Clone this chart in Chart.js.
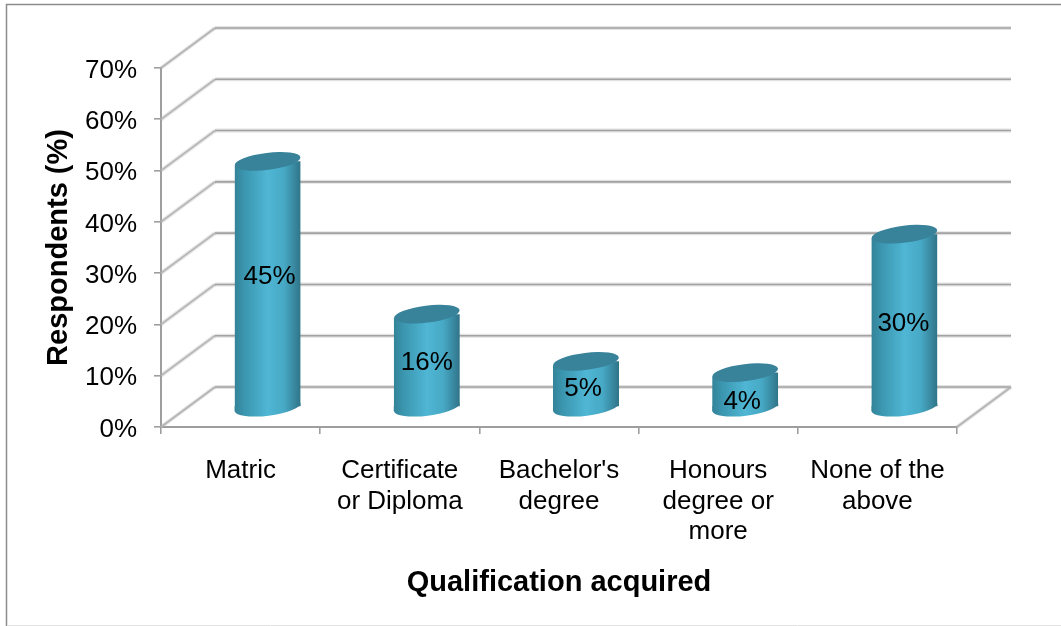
<!DOCTYPE html>
<html>
<head>
<meta charset="utf-8">
<style>html,body{margin:0;padding:0;background:#fff;overflow:hidden}canvas{display:block}</style>
<script src="https://cdn.jsdelivr.net/npm/chart.js@4"></script>
</head>
<body>
<canvas id="c" width="1061" height="626"></canvas>
<script>
const categories = [["Matric"], ["Certificate", "or Diploma"], ["Bachelor's", "degree"], ["Honours", "degree or", "more"], ["None of the", "above"]];
const drawnHeights = [48.1, 18.3, 9.1, 6.9, 33.9];
const printedLabels = ["45%", "16%", "5%", "4%", "30%"];
const yTicks = [0, 10, 20, 30, 40, 50, 60, 70];
const yTitle = "Respondents (%)";
const xTitle = "Qualification acquired";

const FONT = "'Liberation Sans', Arial, sans-serif";
const DEPTH_X = 54, DEPTH_Y = 40;
const BAR_DX = 27, BAR_DY = 19;
const TILT = 4, RY = 8.5;
const labelNudge = [[2, -7], [0, 2], [-3, 5], [-3, 12], [-1, 3]];

function barGradient(ctx, x0, x1) {
  const g = ctx.createLinearGradient(x0, 0, x1, 0);
  g.addColorStop(0, '#338398');
  g.addColorStop(0.15, '#3b96af');
  g.addColorStop(0.5, '#4fb6d4');
  g.addColorStop(0.75, '#47a9c5');
  g.addColorStop(0.92, '#37859c');
  g.addColorStop(1, '#2f7488');
  return g;
}
function gridStroke(ctx, pts, lineColor) {
  ctx.lineCap = 'butt';
  ctx.beginPath();
  ctx.moveTo(pts[0], pts[1]);
  ctx.lineTo(pts[2], pts[3]);
  ctx.strokeStyle = 'rgba(175,175,175,0.35)';
  ctx.lineWidth = 4;
  ctx.stroke();
  ctx.strokeStyle = lineColor;
  ctx.lineWidth = 1.6;
  ctx.stroke();
}
function ellipsePath(c, cx, cy, rx) {
  c.ellipse(cx, cy, rx, RY, -7 * Math.PI / 180, 0, Math.PI * 2);
}
const cyl = {
  id: 'cyl',
  beforeDraw(chart) {
    const c = chart.ctx;
    c.save();
    c.strokeStyle = '#8c8c8c';
    c.lineWidth = 1.5;
    c.beginPath();
    c.moveTo(1061, 4.5); c.lineTo(6.5, 4.5); c.lineTo(6.5, 626);
    c.stroke();
    c.strokeStyle = '#e2e2e2';
    c.lineWidth = 1;
    c.beginPath();
    c.moveTo(7, 625.5); c.lineTo(1061, 625.5);
    c.stroke();
    c.restore();
  },
  beforeDatasetsDraw(chart) {
    const c = chart.ctx, y = chart.scales.y, a = chart.chartArea;
    c.save();
    yTicks.forEach(t => {
      const py = y.getPixelForValue(t);
      gridStroke(c, [a.left, py, a.left + DEPTH_X, py - DEPTH_Y], '#b4b4b4');
      gridStroke(c, [a.left + DEPTH_X, py - DEPTH_Y, a.right + DEPTH_X, py - DEPTH_Y], '#a2a2a2');
    });
    const p0 = y.getPixelForValue(0);
    gridStroke(c, [a.right, p0, a.right + DEPTH_X, p0 - DEPTH_Y], '#b4b4b4');
    c.restore();
    c.save();
    c.translate(BAR_DX, -BAR_DY);
    const els = chart.getDatasetMeta(0).data;
    els.forEach(el => {
      const r = el.width / 2;
      c.fillStyle = barGradient(c, el.x - r, el.x + r);
      c.beginPath();
      ellipsePath(c, el.x, el.base, r);
      c.fill();
      c.beginPath();
      c.moveTo(el.x - r, el.base - 1);
      c.lineTo(el.x + r, el.base - 1);
      c.lineTo(el.x + r, el.base - TILT);
      c.lineTo(el.x - r, el.base + TILT);
      c.closePath();
      c.fill();
    });
    c.save();
    c.beginPath();
    els.forEach(el => {
      const r = el.width / 2;
      c.moveTo(el.x - r, el.y + TILT);
      c.lineTo(el.x + r, el.y - TILT);
      c.lineTo(el.x + r, el.base - TILT);
      c.lineTo(el.x - r, el.base + TILT);
      c.closePath();
    });
    c.clip();
  },
  afterDatasetsDraw(chart) {
    const c = chart.ctx;
    c.restore();
    chart.getDatasetMeta(0).data.forEach(el => {
      c.beginPath();
      ellipsePath(c, el.x, el.y, el.width / 2);
      c.fillStyle = '#38829a';
      c.fill();
    });
    c.restore();
    c.save();
    c.font = '26px ' + FONT;
    c.fillStyle = '#000';
    c.textAlign = 'center';
    c.textBaseline = 'middle';
    chart.getDatasetMeta(0).data.forEach((el, i) => {
      c.fillText(printedLabels[i], el.x + BAR_DX + labelNudge[i][0], (el.y + el.base) / 2 - BAR_DY + labelNudge[i][1]);
    });
    c.restore();
  }
};
new Chart(document.getElementById('c'), {
  type: 'bar',
  data: {
    labels: categories,
    datasets: [{
      data: drawnHeights,
      clip: false,
      borderWidth: 0,
      categoryPercentage: 1,
      barPercentage: 0.415,
      backgroundColor(ctx) {
        const x = ctx.chart.scales.x;
        const cx = x && ctx.dataIndex !== undefined ? x.getPixelForValue(ctx.dataIndex) : NaN;
        if (!Number.isFinite(cx)) return '#4fb6d4';
        return barGradient(ctx.chart.ctx, cx - 33, cx + 33);
      }
    }]
  },
  plugins: [cyl],
  options: {
    responsive: false,
    animation: false,
    layout: { padding: { left: 42, right: 104, top: 68, bottom: 26 } },
    plugins: { legend: { display: false }, tooltip: { enabled: false } },
    scales: {
      x: {
        afterFit(s) { s.height = 173; },
        grid: { drawOnChartArea: false, color: '#9e9e9e', tickLength: 7, lineWidth: 1.6, offset: true },
        border: { color: '#9e9e9e', width: 2 },
        ticks: { color: '#000', font: { family: FONT, size: 26, lineHeight: 1.17 }, autoSkip: false, maxRotation: 0, padding: 22 },
        title: { display: true, text: xTitle, color: '#000', font: { family: FONT, size: 29, weight: 'bold' }, padding: 0 }
      },
      y: {
        min: 0, max: 70,
        afterFit(s) { s.width = 119; },
        afterBuildTicks(s) { s.ticks = yTicks.map(v => ({ value: v })); },
        grid: { drawOnChartArea: false, color: '#9e9e9e', tickLength: 7, lineWidth: 1.6 },
        border: { color: '#9e9e9e', width: 2 },
        ticks: { color: '#000', font: { family: FONT, size: 26 }, padding: 17, labelOffset: 2.5, callback: v => v + '%' },
        title: { display: true, text: yTitle, color: '#000', font: { family: FONT, size: 29, weight: 'bold' }, padding: 0 }
      }
    }
  }
});
</script>
</body>
</html>
